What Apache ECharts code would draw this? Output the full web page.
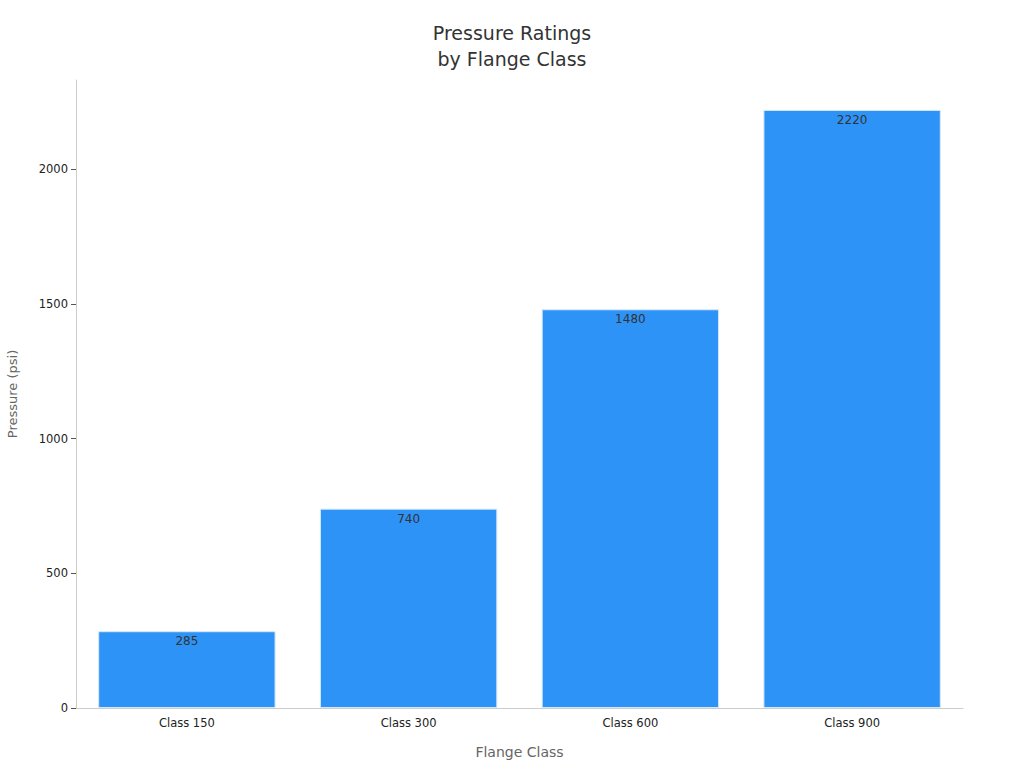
<!DOCTYPE html>
<html>
<head>
<meta charset="utf-8">
<script src="https://cdn.jsdelivr.net/npm/echarts@6/dist/echarts.min.js"></script>
<style>
  html, body { margin: 0; padding: 0; background: #fff; }
  #chart { width: 1024px; height: 768px; }
</style>
</head>
<body>
<div id="chart"></div>
<script>
const categories = ['Class 150', 'Class 300', 'Class 600', 'Class 900'];
const pressures = [285, 740, 1480, 2220];
const yTicks = [0, 500, 1000, 1500, 2000];

const FONT = 'DejaVu Sans';

const c = echarts.init(document.getElementById('chart'), null, { renderer: 'svg' });
c.setOption({
  animation: false,
  textStyle: { fontFamily: FONT },
  title: {
    text: 'Pressure Ratings\nby Flange Class',
    left: 'center', top: 15,
    textStyle: { fontFamily: FONT, fontSize: 19, fontWeight: 'normal', color: '#333', lineHeight: 26 },
  },
  grid: { left: 76, right: 61, top: 80, bottom: 60, outerBoundsMode: 'none', containLabel: false },
  xAxis: {
    type: 'category', data: categories,
    name: 'Flange Class', nameLocation: 'middle', nameGap: 37,
    nameTextStyle: { fontFamily: FONT, fontSize: 14, color: '#666' },
    axisLine: { lineStyle: { color: '#ccc' } },
    axisTick: { alignWithLabel: true, length: 5, lineStyle: { color: '#555' } },
    axisLabel: { color: '#222', fontSize: 11.5, margin: 9 },
  },
  yAxis: {
    type: 'value', min: 0, max: 2331,
    name: 'Pressure (psi)', nameLocation: 'middle', nameGap: 57,
    nameTextStyle: { fontFamily: FONT, fontSize: 13, color: '#666' },
    axisLine: { show: true, lineStyle: { color: '#ccc' } },
    axisTick: { show: true, length: 5, customValues: yTicks, lineStyle: { color: '#555' } },
    axisLabel: { color: '#222', fontSize: 11.5, margin: 8, customValues: yTicks, formatter: v => String(v) },
    splitLine: { show: false },
  },
  series: [{
    type: 'bar', data: pressures, barWidth: '80%',
    itemStyle: { color: '#2E93F7', borderColor: '#d6e8fb', borderWidth: 1 },
    label: {
      show: true, position: 'insideTop', distance: 4,
      color: '#333', fontSize: 12, fontFamily: FONT,
    },
  }],
});
</script>
</body>
</html>
